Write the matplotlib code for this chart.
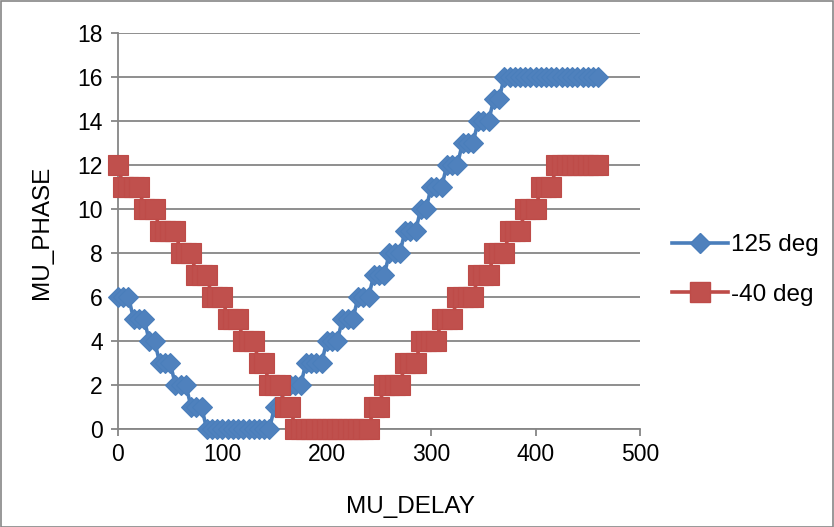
import matplotlib
matplotlib.use("Agg")
import matplotlib.pyplot as plt
from matplotlib.lines import Line2D
from matplotlib.patches import Rectangle

mu_delay = [0, 5, 10, 15, 20, 25, 30, 35, 40, 45, 50, 55, 60, 65, 70, 75, 80, 85, 90, 95,
            100, 105, 110, 115, 120, 125, 130, 135, 140, 145, 150, 155, 160, 165, 170, 175,
            180, 185, 190, 195, 200, 205, 210, 215, 220, 225, 230, 235, 240, 245, 250, 255,
            260, 265, 270, 275, 280, 285, 290, 295, 300, 305, 310, 315, 320, 325, 330, 335,
            340, 345, 350, 355, 360, 365, 370, 375, 380, 385, 390, 395, 400, 405, 410, 415,
            420, 425, 430, 435, 440, 445, 450, 455, 460]

phase_125 = [6, 6, 6, 5, 5, 5, 4, 4, 3, 3, 3, 2, 2, 2, 1, 1, 1, 0, 0, 0,
             0, 0, 0, 0, 0, 0, 0, 0, 0, 0, 1, 1, 2, 2, 2, 2,
             3, 3, 3, 3, 4, 4, 4, 5, 5, 5, 6, 6, 6, 7, 7, 7,
             8, 8, 8, 9, 9, 9, 10, 10, 11, 11, 11, 12, 12, 12, 13, 13,
             13, 14, 14, 14, 15, 15, 16, 16, 16, 16, 16, 16, 16, 16, 16, 16,
             16, 16, 16, 16, 16, 16, 16, 16, 16]

phase_m40 = [12, 11, 11, 11, 11, 10, 10, 10, 9, 9, 9, 9, 8, 8, 8, 7, 7, 7, 6, 6,
             6, 5, 5, 5, 4, 4, 4, 3, 3, 2, 2, 2, 1, 1, 0, 0,
             0, 0, 0, 0, 0, 0, 0, 0, 0, 0, 0, 0, 0, 1, 1, 2,
             2, 2, 2, 3, 3, 3, 4, 4, 4, 4, 5, 5, 5, 6, 6, 6,
             6, 7, 7, 7, 8, 8, 8, 9, 9, 9, 10, 10, 10, 11, 11, 11,
             12, 12, 12, 12, 12, 12, 12, 12, 12]

series_labels = ["125 deg", "-40 deg"]
x_ticks = [0, 100, 200, 300, 400, 500]
y_ticks = [0, 2, 4, 6, 8, 10, 12, 14, 16, 18]

plt.rcParams['font.family'] = ['Liberation Sans', 'DejaVu Sans']

W, H = 834, 527
fig = plt.figure(figsize=(W / 100, H / 100), dpi=100)
ax = fig.add_axes([118 / W, 1 - 429 / H, (640 - 118) / W, (429 - 33) / H])

grid_c = "#868686"
blue_line, blue_face = "#4A7EBB", "#4F81BD"
red_line, red_face = "#BE4B48", "#C0504D"

ax.plot(mu_delay, phase_125, color=blue_line, lw=2.6, marker="D", ms=10.5,
        mfc=blue_face, mec=blue_line, mew=0.8, zorder=3, clip_on=False)
ax.plot(mu_delay, phase_m40, color=red_line, lw=2.6, marker="s", ms=14,
        mfc=red_face, mec=red_line, mew=0.8, zorder=4, clip_on=False)

ax.set_xlim(0, 500)
ax.set_ylim(0, 18)
ax.set_xticks(x_ticks)
ax.set_yticks(y_ticks)
ax.yaxis.grid(True, color=grid_c, lw=1.3)
ax.set_axisbelow(True)
for s in ["top", "right"]:
    ax.spines[s].set_visible(False)
for s in ["left", "bottom"]:
    ax.spines[s].set_color(grid_c)
    ax.spines[s].set_linewidth(1.3)
ax.tick_params(axis="both", colors=grid_c, length=5, width=1.3, labelsize=16.5,
               labelcolor="black", direction="out")
ax.tick_params(axis="x", pad=5)
ax.tick_params(axis="y", pad=6)

ax.set_xlabel("MU_DELAY", fontsize=17.5)
ax.set_ylabel("MU_PHASE", fontsize=17.5)
ax.xaxis.set_label_coords((410 - 118) / 522, (429 - 496) / 396)
ax.yaxis.set_label_coords((53 - 118) / 522, (429 - 232) / 396)

handles = [
    Line2D([], [], color=blue_line, lw=2.6, marker="D", ms=10.5, mfc=blue_face, mec=blue_line),
    Line2D([], [], color=red_line, lw=2.6, marker="s", ms=14, mfc=red_face, mec=red_line),
]
fig.legend(handles, series_labels, loc="center left", bbox_to_anchor=(662 / W, 1 - 270 / H),
           frameon=False, fontsize=17.5, handlelength=2.3, handletextpad=0.15,
           labelspacing=1.15, borderaxespad=0)

fig.patches.append(Rectangle((0.5 / W, 0.5 / H), 1 - 1.5 / W, 1 - 1.5 / H,
                             transform=fig.transFigure, fill=False, ec=grid_c, lw=1.2))

fig.savefig("out.png", dpi=100)
